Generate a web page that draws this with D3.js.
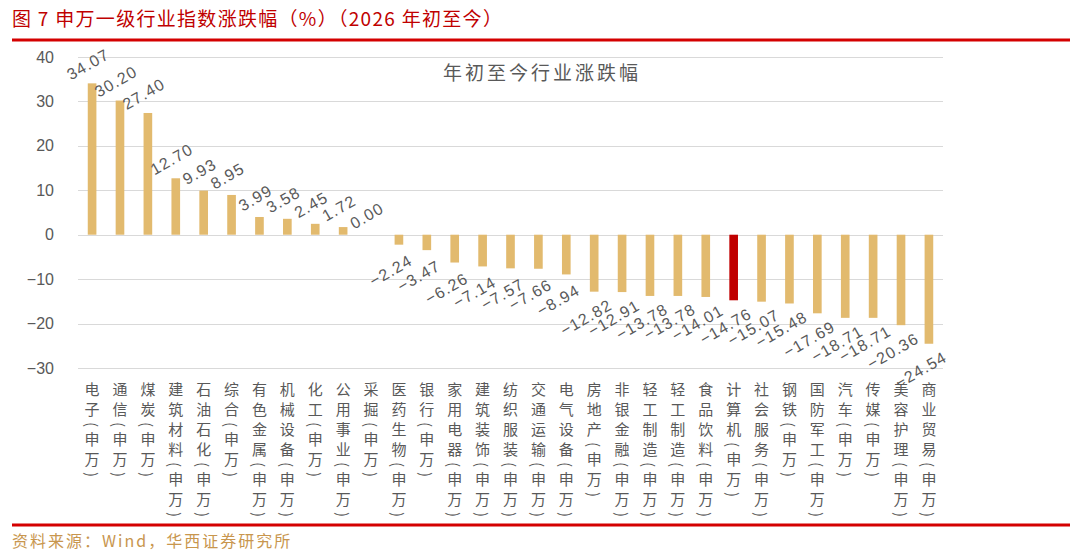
<!DOCTYPE html>
<html>
<head>
<meta charset="utf-8">
<script src="https://cdn.jsdelivr.net/npm/d3@7"></script>
<style>
  body { margin: 0; background: #fff; }
  svg { display: block; }
</style>
</head>
<body>
<div id="chart"></div>
<script>
// 数据
var categories = ['电子(申万)', '通信(申万)', '煤炭(申万)', '建筑材料(申万)', '石油石化(申万)', '综合(申万)',
    '有色金属(申万)', '机械设备(申万)', '化工(申万)', '公用事业(申万)', '采掘(申万)', '医药生物(申万)',
    '银行(申万)', '家用电器(申万)', '建筑装饰(申万)', '纺织服装(申万)', '交通运输(申万)', '电气设备(申万)',
    '房地产(申万)', '非银金融(申万)', '轻工制造(申万)', '轻工制造(申万)', '食品饮料(申万)', '计算机(申万)',
    '社会服务(申万)', '钢铁(申万)', '国防军工(申万)', '汽车(申万)', '传媒(申万)', '美容护理(申万)', '商业贸易(申万)'];
var values = [34.07, 30.20, 27.40, 12.70, 9.93, 8.95, 3.99, 3.58, 2.45, 1.72, 0.00, -2.24, -3.47, -6.26, -7.14,
    -7.57, -7.66, -8.94, -12.82, -12.91, -13.78, -13.78, -14.01, -14.76, -15.07, -15.48, -17.69, -18.71, -18.71,
    -20.36, -24.54];
var highlight = '计算机(申万)';
var y_ticks = [-30, -20, -10, 0, 10, 20, 30, 40];

var title = '图 7 申万一级行业指数涨跌幅（%）（2026 年初至今）';
var chart_title = '年初至今行业涨跌幅';
var source = '资料来源：Wind，华西证券研究所';

var width = 1080;
var height = 558;
var plot = { left: 78, right: 943, top: 57, bottom: 368 };
var cn_font = '"Noto Sans CJK SC", "Noto Sans", sans-serif';
var num_font = '"Liberation Sans", Arial, sans-serif';

var svg = d3.select('#chart')
    .append('svg')
    .attr('width', width)
    .attr('height', height);

// 标题与分隔线
svg.append('text')
    .attr('x', 12)
    .attr('y', 17)
    .attr('dominant-baseline', 'central')
    .attr('font-family', cn_font)
    .attr('font-size', 19)
    .attr('letter-spacing', 1.3)
    .attr('fill', '#c00000')
    .text(title);

svg.append('rect')
    .attr('x', 12).attr('y', 38.5)
    .attr('width', 1058).attr('height', 3)
    .attr('fill', '#d40000');

svg.append('rect')
    .attr('x', 12).attr('y', 523.5)
    .attr('width', 1058).attr('height', 3)
    .attr('fill', '#d40000');

svg.append('text')
    .attr('x', 12)
    .attr('y', 540)
    .attr('dominant-baseline', 'central')
    .attr('font-family', cn_font)
    .attr('font-size', 16)
    .attr('letter-spacing', 2)
    .attr('fill', '#c8964e')
    .text(source);

// 比例尺
var x_scale = d3.scaleBand()
    .domain(categories.map(function (d, i) { return i; }))
    .range([plot.left, plot.right])
    .paddingInner(0.69)
    .paddingOuter(0.35);

var y_scale = d3.scaleLinear()
    .domain([-30, 40])
    .range([plot.bottom, plot.top]);

// 网格线
svg.append('g')
    .selectAll('line')
    .data(y_ticks)
    .enter()
    .append('line')
    .attr('x1', plot.left)
    .attr('x2', plot.right)
    .attr('y1', function (d) { return Math.round(y_scale(d)) + 0.5; })
    .attr('y2', function (d) { return Math.round(y_scale(d)) + 0.5; })
    .attr('stroke', '#d9d9d9')
    .attr('stroke-width', 1.2);

// y轴
var y_axis = d3.axisLeft(y_scale)
    .tickValues(y_ticks)
    .tickSize(0)
    .tickPadding(0);

var gy = svg.append('g')
    .attr('transform', 'translate(54,0)')
    .call(y_axis);
gy.select('.domain').remove();
gy.selectAll('text')
    .attr('font-family', num_font)
    .attr('font-size', 16)
    .attr('fill', '#595959');

// 图内标题
svg.append('text')
    .attr('x', 542)
    .attr('y', 71)
    .attr('text-anchor', 'middle')
    .attr('dominant-baseline', 'central')
    .attr('font-family', cn_font)
    .attr('font-size', 19)
    .attr('letter-spacing', 3)
    .attr('fill', '#595959')
    .text(chart_title);

// 柱子
svg.selectAll('rect.bar')
    .data(values)
    .enter()
    .append('rect')
    .attr('class', 'bar')
    .attr('x', function (d, i) { return x_scale(i); })
    .attr('y', function (d) { return y_scale(Math.max(0, d)); })
    .attr('width', x_scale.bandwidth())
    .attr('height', function (d) { return Math.abs(y_scale(d) - y_scale(0)); })
    .attr('fill', function (d, i) {
        return categories[i] === highlight ? '#c00000' : '#e2ba6e';
    });

// 数据标签
svg.selectAll('text.label')
    .data(values)
    .enter()
    .append('text')
    .attr('class', 'label')
    .attr('transform', function (d, i) {
        var cx = x_scale(i) + x_scale.bandwidth() / 2;
        var lx, ly;
        if (d >= 0) {
            lx = cx - 4;
            ly = y_scale(d) - 19;
        } else {
            lx = cx - 8;
            ly = y_scale(d) + 26;
        }
        return 'translate(' + lx + ',' + ly + ') rotate(-30)';
    })
    .attr('text-anchor', 'middle')
    .attr('dominant-baseline', 'central')
    .attr('font-family', num_font)
    .attr('font-size', 16)
    .attr('letter-spacing', 1.2)
    .attr('fill', '#595959')
    .text(function (d) { return d.toFixed(2).replace('-', '\u2212'); });

// 分类标签（竖排）
svg.selectAll('text.cat')
    .data(categories)
    .enter()
    .append('text')
    .attr('class', 'cat')
    .attr('x', function (d, i) { return x_scale(i) + x_scale.bandwidth() / 2; })
    .attr('y', 382)
    .style('writing-mode', 'vertical-rl')
    .attr('font-family', cn_font)
    .attr('font-size', 15)
    .attr('letter-spacing', 5)
    .attr('fill', '#595959')
    .text(function (d) { return d; });
</script>
</body>
</html>
